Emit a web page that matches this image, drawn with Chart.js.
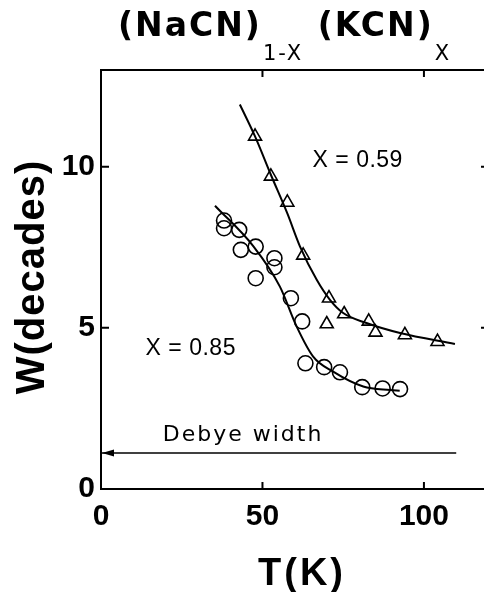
<!DOCTYPE html>
<html>
<head>
<meta charset="utf-8">
<script src="https://cdn.jsdelivr.net/npm/chart.js@4.4.1/dist/chart.umd.min.js"></script>
<style>
  html, body { margin: 0; padding: 0; background: #fff; overflow: hidden; }
  canvas { display: block; }
</style>
</head>
<body>
<canvas id="wChart" width="484" height="592"></canvas>
<script>
// tick labels
const tempTicks = [0, 50, 100];
const wTicks = [0, 5, 10];

// X = 0.85 (circles)
const t85 = [38.1, 38.1, 42.8, 43.3, 47.9, 47.9, 53.7, 53.7, 58.8, 62.3, 63.3, 69.1, 74.0, 80.9, 87.2, 92.6];
const w85 = [8.33, 8.09, 8.04, 7.42, 7.52, 6.54, 7.16, 6.88, 5.92, 5.20, 3.90, 3.78, 3.62, 3.16, 3.12, 3.10];
// fit curve through X = 0.85
const fit85T = [35.3, 47.2, 55.4, 60.6, 65.7, 71.9, 81.2, 89.5, 92.5];
const fit85W = [8.79, 7.53, 6.28, 5.04, 4.11, 3.64, 3.18, 3.07, 3.05];

// X = 0.59 (triangles)
const t59 = [47.7, 52.6, 57.7, 62.6, 70.6, 69.9, 75.3, 82.9, 85.0, 94.1, 104.2];
const w59 = [10.94, 9.70, 8.89, 7.25, 5.92, 5.12, 5.43, 5.20, 4.86, 4.78, 4.57];
// fit curve through X = 0.59
const fit59T = [43.0, 47.7, 52.6, 57.7, 61.6, 66.8, 70.9, 75.0, 82.2, 92.6, 109.6];
const fit59W = [11.93, 10.94, 9.75, 8.55, 7.53, 6.49, 5.87, 5.46, 5.15, 4.84, 4.50];

// Debye width reference line
const debyeT = [0, 110];
const debyeW = [1.12, 1.12];

const pts = (xs, ys) => xs.map((x, i) => ({x: x, y: ys[i]}));

const labels = [
  {text: 'X = 0.59', x: 79.5, y: 10.2},
  {text: 'X = 0.85', x: 27.8, y: 4.35},
];

const frame = {
  id: 'frame',
  afterDraw(chart) {
    const {ctx, chartArea: a, scales: {x, y}} = chart;
    ctx.save();
    ctx.strokeStyle = '#000';
    ctx.lineWidth = 2;
    ctx.beginPath();
    ctx.moveTo(a.left, a.top);
    ctx.lineTo(a.right, a.top);
    // inward ticks
    tempTicks.slice(1).forEach(v => {
      const px = x.getPixelForValue(v);
      ctx.moveTo(px, a.bottom); ctx.lineTo(px, a.bottom - 7);
      ctx.moveTo(px, a.top); ctx.lineTo(px, a.top + 7);
    });
    wTicks.slice(1).forEach(v => {
      const py = y.getPixelForValue(v);
      ctx.moveTo(a.left, py); ctx.lineTo(a.left + 8, py);
      ctx.moveTo(a.right, py); ctx.lineTo(a.right - 3, py);
    });
    ctx.stroke();

    // arrow head of the Debye width line, pointing at the W axis
    const ax = x.getPixelForValue(debyeT[0]) + 1, ay = y.getPixelForValue(debyeW[0]);
    ctx.fillStyle = '#000';
    ctx.beginPath();
    ctx.moveTo(ax, ay);
    ctx.lineTo(ax + 12, ay - 3.5);
    ctx.lineTo(ax + 12, ay + 3.5);
    ctx.closePath();
    ctx.fill();

    ctx.textBaseline = 'middle';
    ctx.textAlign = 'center';
    ctx.font = '23px "Liberation Sans"';
    ctx.letterSpacing = '0.5px';
    labels.forEach(l => ctx.fillText(l.text, x.getPixelForValue(l.x), y.getPixelForValue(l.y)));

    ctx.font = '22px "DejaVu Sans"';
    ctx.letterSpacing = '2px';
    ctx.fillText('Debye width', x.getPixelForValue(44), y.getPixelForValue(1.66));

    // axis titles
    ctx.font = 'bold 38px "Liberation Sans"';
    ctx.letterSpacing = '3px';
    ctx.fillText('T(K)', 302, 575);
    ctx.font = 'bold 40px "Liberation Sans"';
    ctx.letterSpacing = '1px';
    ctx.save();
    ctx.translate(33, 277);
    ctx.rotate(-Math.PI / 2);
    ctx.fillText('W(decades)', 0, 0);
    ctx.restore();

    // title with subscripts
    ctx.textAlign = 'left';
    ctx.textBaseline = 'alphabetic';
    let cx = 118;
    const big = 'bold 33px "DejaVu Sans"', small = '21px "DejaVu Sans"';
    const parts = [['(NaCN)', big, 36, 2], ['1-X', small, 60, 2], [' (KCN)', big, 36, 2], ['X', small, 60, 2]];
    parts.forEach(([s, f, base, sp]) => {
      ctx.font = f;
      ctx.letterSpacing = sp + 'px';
      ctx.fillText(s, cx, base);
      cx += ctx.measureText(s).width + 1;
    });
    ctx.letterSpacing = '0px';
    ctx.restore();
  }
};

new Chart(document.getElementById('wChart'), {
  type: 'scatter',
  data: {
    datasets: [
      {
        data: pts(t85, w85),
        pointStyle: 'circle', pointRadius: 7.5, pointHoverRadius: 7.5,
        borderColor: '#000', borderWidth: 1.6, backgroundColor: 'rgba(0,0,0,0)',
      },
      {
        data: pts(t59, w59),
        pointStyle: 'triangle', pointRadius: 7.5, pointHoverRadius: 7.5,
        borderColor: '#000', borderWidth: 1.6, backgroundColor: 'rgba(0,0,0,0)',
      },
      {
        type: 'line', data: pts(fit85T, fit85W),
        borderColor: '#000', borderWidth: 2, pointRadius: 0, cubicInterpolationMode: 'monotone', fill: false,
      },
      {
        type: 'line', data: pts(fit59T, fit59W),
        borderColor: '#000', borderWidth: 2, pointRadius: 0, cubicInterpolationMode: 'monotone', fill: false,
      },
      {
        type: 'line', data: pts(debyeT, debyeW),
        borderColor: '#000', borderWidth: 1.5, fill: false, pointRadius: 0,
      },
    ]
  },
  options: {
    responsive: false,
    animation: false,
    layout: {autoPadding: false, padding: {top: 70, right: 0, left: 0, bottom: 0}},
    plugins: {legend: {display: false}, tooltip: {enabled: false}},
    scales: {
      x: {
        type: 'linear', min: 0, max: 118.6,
        afterFit: s => { s.height = 103; s.paddingLeft = 0; s.paddingRight = 0; },
        afterBuildTicks: s => { s.ticks = tempTicks.map(v => ({value: v})); },
        grid: {display: false, drawTicks: false},
        border: {display: true, color: '#000', width: 2},
        ticks: {color: '#000', padding: 10, font: {family: 'Liberation Sans', size: 30, weight: 'bold'}},
      },
      y: {
        type: 'linear', min: 0, max: 13,
        afterFit: s => { s.width = 101; s.paddingTop = 0; s.paddingBottom = 0; },
        afterBuildTicks: s => { s.ticks = wTicks.map(v => ({value: v})); },
        grid: {display: false, drawTicks: false},
        border: {display: true, color: '#000', width: 2},
        ticks: {color: '#000', padding: 6, font: {family: 'Liberation Sans', size: 30, weight: 'bold'}},
      }
    }
  },
  plugins: [frame]
});
</script>
</body>
</html>
